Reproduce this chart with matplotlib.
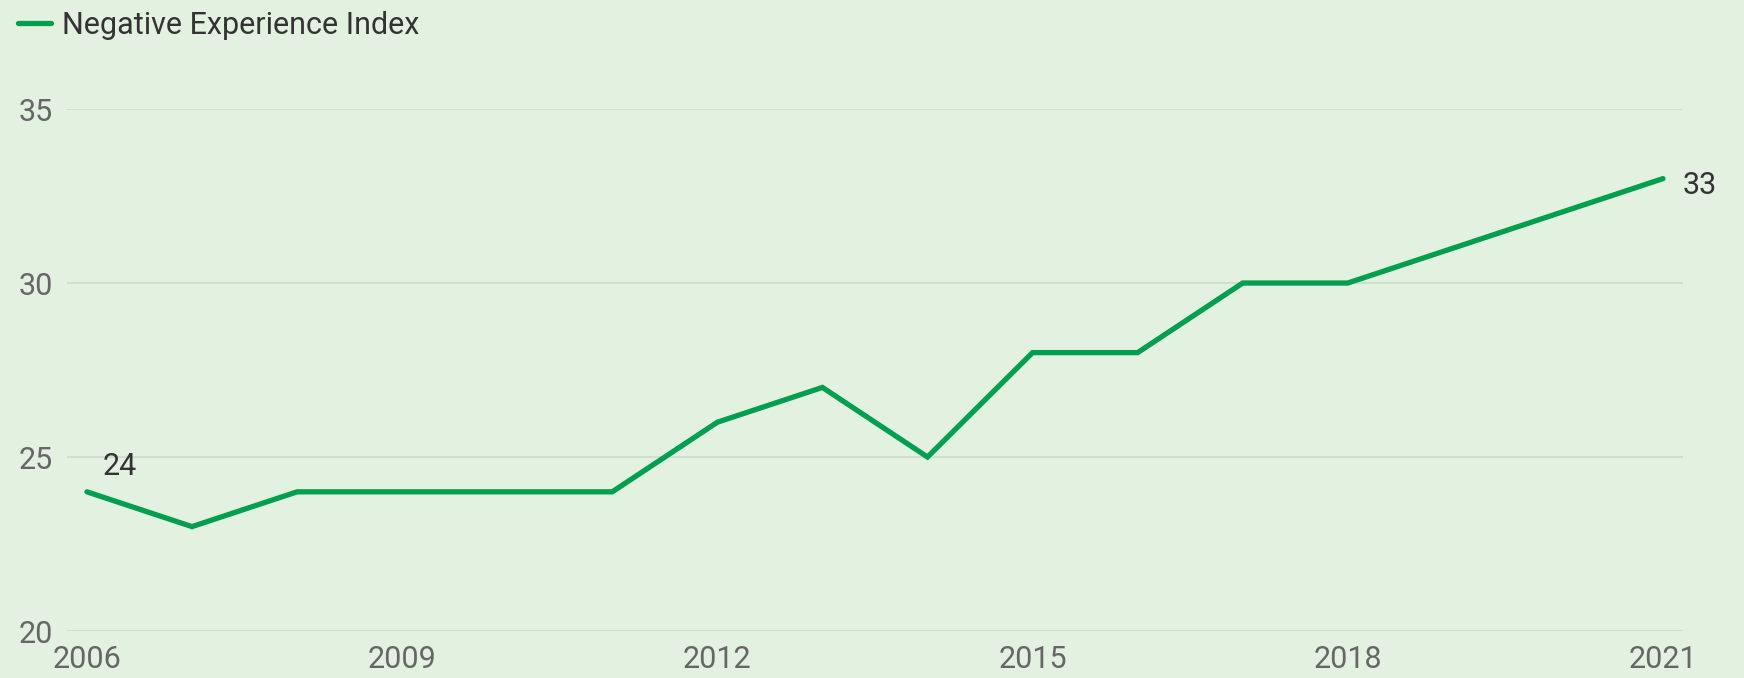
import matplotlib
matplotlib.use("Agg")
import matplotlib.pyplot as plt

years = [2006, 2007, 2008, 2009, 2010, 2011, 2012, 2013, 2014, 2015, 2016, 2017, 2018, 2019, 2020, 2021]
values = [24, 23, 24, 24, 24, 24, 26, 27, 25, 28, 28, 30, 30, 31, 32, 33]
series_name = "Negative Experience Index"
x_ticks = [2006, 2009, 2012, 2015, 2018, 2021]
y_ticks = [20, 25, 30, 35]

BG = "#E3F1E0"
LINE = "#009E4F"
GRID = "#CFDFCC"
FS = 22

plt.rcParams['font.family'] = ['Roboto', 'DejaVu Sans']

fig = plt.figure(figsize=(17.44, 6.78), dpi=100, facecolor=BG)
ax = fig.add_axes([0.0384, 0.0693, 0.9266, 0.7699])
ax.set_facecolor(BG)

line, = ax.plot(years, values, color=LINE, lw=3.8, solid_capstyle='round',
                solid_joinstyle='miter', clip_on=False, label=series_name)

ax.set_xlim(2005.81, 2021.19)
ax.set_ylim(20, 35)
ax.set_xticks(x_ticks)
ax.set_yticks(y_ticks)
ax.grid(axis='y', color=GRID, lw=1.5)
ax.set_axisbelow(True)
for s in ax.spines.values():
    s.set_visible(False)
ax.tick_params(axis='both', length=0, labelsize=FS, labelcolor='#666666')
ax.tick_params(axis='y', pad=10)
ax.tick_params(axis='x', pad=10)

ax.annotate(str(values[0]), (years[0], values[0]), xytext=(11, 18),
            textcoords='offset points', fontsize=FS, color='#333333',
            ha='left', va='center')
ax.annotate(str(values[-1]), (years[-1], values[-1]), xytext=(14, -5),
            textcoords='offset points', fontsize=FS, color='#333333',
            ha='left', va='center')

fig.legend(handles=[line], loc='upper left', bbox_to_anchor=(0.004, 1.0),
           frameon=False, fontsize=FS, handlelength=1.1, handletextpad=0.35,
           labelcolor='#333333', borderaxespad=0.0, borderpad=0.35)

fig.savefig("out.png", dpi=100, facecolor=BG)
